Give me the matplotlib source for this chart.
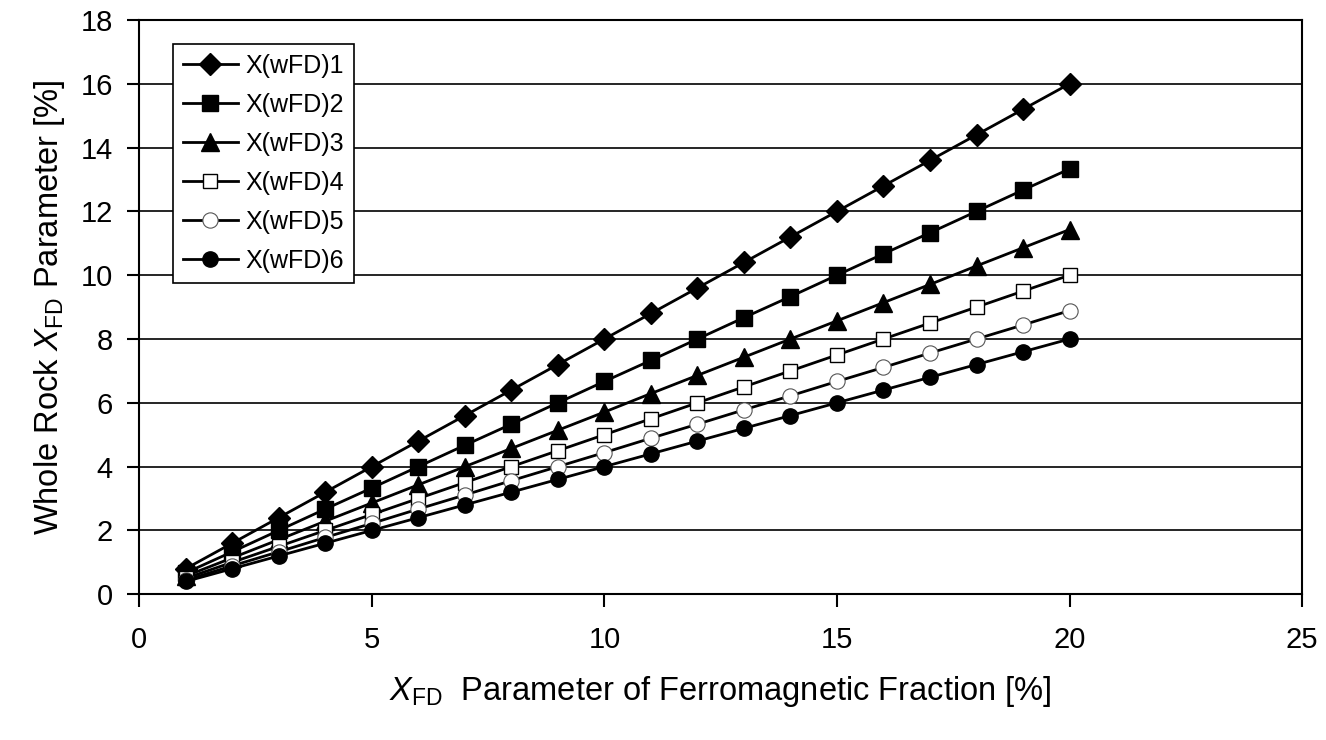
import matplotlib
matplotlib.use("Agg")
import matplotlib.pyplot as plt

plt.rcParams.update({
    "font.family": ["Liberation Sans", "DejaVu Sans"],
    "font.size": 20,
    "mathtext.fontset": "custom",
    "mathtext.rm": "Liberation Sans",
    "mathtext.it": "Liberation Sans:italic",
    "axes.linewidth": 1.5,
})

x_vals = list(range(1, 21))
wfd1 = [0.8, 1.6, 2.4, 3.2, 4.0, 4.8, 5.6, 6.4, 7.2, 8.0,
        8.8, 9.6, 10.4, 11.2, 12.0, 12.8, 13.6, 14.4, 15.2, 16.0]
wfd2 = [0.67, 1.33, 2.0, 2.67, 3.33, 4.0, 4.67, 5.33, 6.0, 6.67,
        7.33, 8.0, 8.67, 9.33, 10.0, 10.67, 11.33, 12.0, 12.67, 13.33]
wfd3 = [0.57, 1.14, 1.71, 2.29, 2.86, 3.43, 4.0, 4.57, 5.14, 5.71,
        6.29, 6.86, 7.43, 8.0, 8.57, 9.14, 9.71, 10.29, 10.86, 11.43]
wfd4 = [0.5, 1.0, 1.5, 2.0, 2.5, 3.0, 3.5, 4.0, 4.5, 5.0,
        5.5, 6.0, 6.5, 7.0, 7.5, 8.0, 8.5, 9.0, 9.5, 10.0]
wfd5 = [0.44, 0.89, 1.33, 1.78, 2.22, 2.67, 3.11, 3.56, 4.0, 4.44,
        4.89, 5.33, 5.78, 6.22, 6.67, 7.11, 7.56, 8.0, 8.44, 8.89]
wfd6 = [0.4, 0.8, 1.2, 1.6, 2.0, 2.4, 2.8, 3.2, 3.6, 4.0,
        4.4, 4.8, 5.2, 5.6, 6.0, 6.4, 6.8, 7.2, 7.6, 8.0]
labels = ["X(wFD)1", "X(wFD)2", "X(wFD)3", "X(wFD)4", "X(wFD)5", "X(wFD)6"]

fig = plt.figure(figsize=(13.26, 7.4), dpi=100)
ax = fig.add_axes([0.105, 0.197, 0.877, 0.776])

styles = [
    dict(marker="D", ms=11, mfc="black", mec="black"),
    dict(marker="s", ms=11, mfc="black", mec="black"),
    dict(marker="^", ms=13, mfc="black", mec="black"),
    dict(marker="s", ms=10, mfc="white", mec="black", mew=1.0),
    dict(marker="o", ms=11, mfc="white", mec="#555555", mew=0.8),
    dict(marker="o", ms=11, mfc="black", mec="black"),
]
for ys, lab, st in zip([wfd1, wfd2, wfd3, wfd4, wfd5, wfd6], labels, styles):
    ax.plot(x_vals, ys, color="black", lw=2, label=lab, **st)

ax.set_xlim(0, 25)
ax.set_ylim(0, 18)
ax.set_xticks(range(0, 26, 5))
ax.set_yticks(range(0, 19, 2))
ax.yaxis.grid(True, color="black", lw=1.2)
ax.set_axisbelow(True)
ax.tick_params(direction="out", length=9, width=1.5, labelsize=21)
ax.tick_params(axis="x", pad=14)
ax.tick_params(axis="y", pad=10)

ax.set_xlabel(r"$\mathit{X}_{\mathrm{FD}}$  Parameter of Ferromagnetic Fraction [%]",
              fontsize=23.5, labelpad=14)
ax.set_ylabel(r"Whole Rock $\mathit{X}_{\mathrm{FD}}$ Parameter [%]",
              fontsize=23.5, labelpad=10)

leg = ax.legend(loc="upper left", bbox_to_anchor=(0.029, 0.958), fontsize=18,
                frameon=True, fancybox=False, edgecolor="black",
                handlelength=2.2, borderpad=0.4, labelspacing=0.6,
                handletextpad=0.3, borderaxespad=0)
leg.get_frame().set_linewidth(1.2)
leg.get_frame().set_alpha(1)

fig.savefig("out.png", dpi=100, facecolor="white")
